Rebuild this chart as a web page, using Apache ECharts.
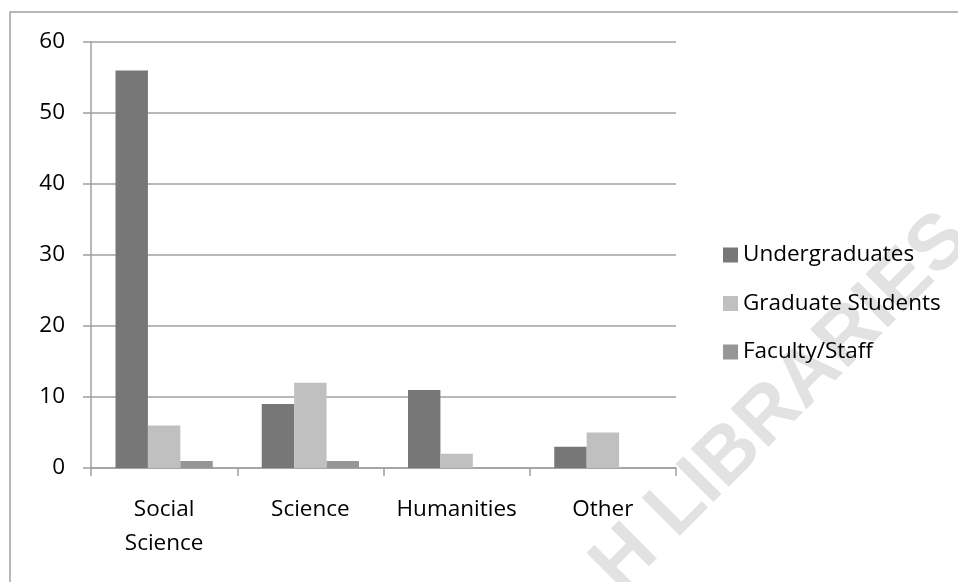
<!DOCTYPE html>
<html>
<head>
<meta charset="utf-8">
<script src="https://cdn.jsdelivr.net/npm/echarts@6/dist/echarts.min.js"></script>
<style>
  html, body { margin: 0; padding: 0; background: #fff; }
  #chart { width: 958px; height: 582px; }
</style>
</head>
<body>
<div id="chart"></div>
<script>
// Respondents by discipline and status
const categories = ['Social\nScience', 'Science', 'Humanities', 'Other'];
const undergraduates = [56, 9, 11, 3];
const graduateStudents = [6, 12, 2, 5];
const facultyStaff = [1, 1, 0, 0];
const seriesNames = ['Undergraduates', 'Graduate Students', 'Faculty/Staff'];
const yTicks = { min: 0, max: 60, interval: 10 };

const FONT = '"Open Sans", Lato, sans-serif';
const FONT_SIZE = 22.5;
const AXIS_GRAY = '#A0A0A0';

const chart = echarts.init(document.getElementById('chart'), null, { renderer: 'canvas' });

function barSeries(name, data, color) {
  return {
    name: name,
    type: 'bar',
    data: data,
    barGap: '0%',
    barCategoryGap: '33.5%',
    itemStyle: { color: color },
    emphasis: { disabled: true }
  };
}

chart.setOption({
  animation: false,
  backgroundColor: '#ffffff',
  textStyle: { fontFamily: FONT },
  grid: { left: 91, right: 282, top: 42, bottom: 114, containLabel: false },
  legend: {
    orient: 'vertical',
    left: 718,
    top: 238,
    icon: 'rect',
    itemWidth: 15,
    itemHeight: 15,
    itemGap: 24.5,
    selectedMode: false,
    textStyle: { fontFamily: FONT, fontSize: FONT_SIZE, color: '#000', lineHeight: 24 },
    data: seriesNames
  },
  xAxis: {
    type: 'category',
    data: categories,
    boundaryGap: true,
    axisLine: { show: true, lineStyle: { color: AXIS_GRAY, width: 1.5 } },
    axisTick: { show: true, inside: false, length: 8, alignWithLabel: false, lineStyle: { color: AXIS_GRAY, width: 1.5 } },
    axisLabel: { interval: 0, margin: 25, color: '#000', fontFamily: FONT, fontSize: FONT_SIZE, lineHeight: 34 },
    splitLine: { show: false }
  },
  yAxis: {
    type: 'value',
    min: yTicks.min,
    max: yTicks.max,
    interval: yTicks.interval,
    axisLine: { show: true, lineStyle: { color: AXIS_GRAY, width: 1.5 } },
    axisTick: { show: true, inside: false, length: 8, lineStyle: { color: AXIS_GRAY, width: 1.5 } },
    axisLabel: { margin: 26, color: '#000', fontFamily: FONT, fontSize: FONT_SIZE },
    splitLine: { show: true, lineStyle: { color: AXIS_GRAY, width: 1.5 } }
  },
  series: [
    barSeries(seriesNames[0], undergraduates, '#777777'),
    barSeries(seriesNames[1], graduateStudents, '#C0C0C0'),
    barSeries(seriesNames[2], facultyStaff, '#969696')
  ],
  graphic: [
    {
      type: 'rect',
      z: -20,
      silent: true,
      shape: { x: 10, y: 12, width: 970, height: 600 },
      style: { fill: 'none', stroke: AXIS_GRAY, lineWidth: 1.5 }
    },
    {
      type: 'text',
      z: -30,
      silent: true,
      x: 958,
      y: 227,
      rotation: Math.PI / 4,
      style: {
        text: 'H LIBRARIES',
        x: 0,
        y: 0,
        align: 'right',
        verticalAlign: 'middle',
        font: 'bold 78px "Liberation Sans", Arial, sans-serif',
        fill: '#E2E2E2'
      }
    }
  ]
});
</script>
</body>
</html>
